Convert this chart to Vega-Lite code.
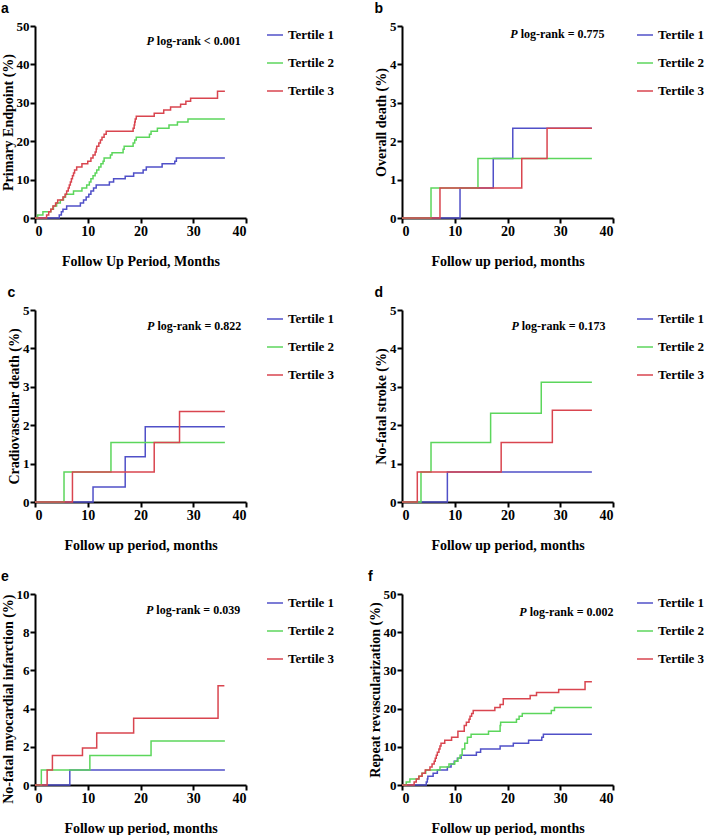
{
  "$schema": "https://vega.github.io/schema/vega-lite/v6.json",
  "background": "white",
  "padding": {"left": 0, "top": 2, "right": 0, "bottom": 0},
  "datasets": {
    "km": [
      {"p":"a","t":"Tertile 1","m":0,"v":0},{"p":"a","t":"Tertile 1","m":4.6,"v":0.8},{"p":"a","t":"Tertile 1","m":5.0,"v":1.6},{"p":"a","t":"Tertile 1","m":5.3,"v":2.3},{"p":"a","t":"Tertile 1","m":6.0,"v":3.1},{"p":"a","t":"Tertile 1","m":8.6,"v":3.9},{"p":"a","t":"Tertile 1","m":9.2,"v":4.7},{"p":"a","t":"Tertile 1","m":9.7,"v":5.5},{"p":"a","t":"Tertile 1","m":10.2,"v":6.2},{"p":"a","t":"Tertile 1","m":10.6,"v":7.0},{"p":"a","t":"Tertile 1","m":11.1,"v":7.8},{"p":"a","t":"Tertile 1","m":11.6,"v":8.6},{"p":"a","t":"Tertile 1","m":14.1,"v":9.4},{"p":"a","t":"Tertile 1","m":14.9,"v":10.2},{"p":"a","t":"Tertile 1","m":17.1,"v":10.9},{"p":"a","t":"Tertile 1","m":18.7,"v":11.7},{"p":"a","t":"Tertile 1","m":20.5,"v":12.5},{"p":"a","t":"Tertile 1","m":21.1,"v":13.3},{"p":"a","t":"Tertile 1","m":24.1,"v":14.1},{"p":"a","t":"Tertile 1","m":26.5,"v":14.8},{"p":"a","t":"Tertile 1","m":26.8,"v":15.6},{"p":"a","t":"Tertile 1","m":36,"v":15.6},
      {"p":"a","t":"Tertile 2","m":0,"v":0},{"p":"a","t":"Tertile 2","m":0.5,"v":0.8},{"p":"a","t":"Tertile 2","m":1.5,"v":1.6},{"p":"a","t":"Tertile 2","m":3.0,"v":2.3},{"p":"a","t":"Tertile 2","m":3.5,"v":3.1},{"p":"a","t":"Tertile 2","m":4.1,"v":3.9},{"p":"a","t":"Tertile 2","m":4.8,"v":4.7},{"p":"a","t":"Tertile 2","m":5.4,"v":5.5},{"p":"a","t":"Tertile 2","m":5.8,"v":6.2},{"p":"a","t":"Tertile 2","m":7.3,"v":7.0},{"p":"a","t":"Tertile 2","m":8.9,"v":7.8},{"p":"a","t":"Tertile 2","m":9.8,"v":8.6},{"p":"a","t":"Tertile 2","m":10.3,"v":9.4},{"p":"a","t":"Tertile 2","m":10.6,"v":10.2},{"p":"a","t":"Tertile 2","m":11.0,"v":11.0},{"p":"a","t":"Tertile 2","m":11.4,"v":11.7},{"p":"a","t":"Tertile 2","m":11.7,"v":12.5},{"p":"a","t":"Tertile 2","m":12.1,"v":13.3},{"p":"a","t":"Tertile 2","m":12.5,"v":14.1},{"p":"a","t":"Tertile 2","m":12.9,"v":14.8},{"p":"a","t":"Tertile 2","m":13.1,"v":15.6},{"p":"a","t":"Tertile 2","m":14.3,"v":16.4},{"p":"a","t":"Tertile 2","m":14.6,"v":17.0},{"p":"a","t":"Tertile 2","m":16.7,"v":17.9},{"p":"a","t":"Tertile 2","m":16.9,"v":18.7},{"p":"a","t":"Tertile 2","m":18.6,"v":19.5},{"p":"a","t":"Tertile 2","m":18.9,"v":20.3},{"p":"a","t":"Tertile 2","m":19.2,"v":21.0},{"p":"a","t":"Tertile 2","m":21.7,"v":21.8},{"p":"a","t":"Tertile 2","m":22.0,"v":22.6},{"p":"a","t":"Tertile 2","m":23.2,"v":23.4},{"p":"a","t":"Tertile 2","m":25.4,"v":24.2},{"p":"a","t":"Tertile 2","m":27.0,"v":25.0},{"p":"a","t":"Tertile 2","m":29.0,"v":25.8},{"p":"a","t":"Tertile 2","m":36,"v":25.8},
      {"p":"a","t":"Tertile 3","m":0,"v":0},{"p":"a","t":"Tertile 3","m":2.2,"v":0.8},{"p":"a","t":"Tertile 3","m":2.6,"v":1.6},{"p":"a","t":"Tertile 3","m":3.0,"v":2.3},{"p":"a","t":"Tertile 3","m":3.4,"v":3.1},{"p":"a","t":"Tertile 3","m":3.9,"v":3.9},{"p":"a","t":"Tertile 3","m":4.3,"v":4.7},{"p":"a","t":"Tertile 3","m":5.3,"v":5.5},{"p":"a","t":"Tertile 3","m":5.7,"v":6.2},{"p":"a","t":"Tertile 3","m":6.0,"v":7.0},{"p":"a","t":"Tertile 3","m":6.3,"v":7.8},{"p":"a","t":"Tertile 3","m":6.5,"v":8.6},{"p":"a","t":"Tertile 3","m":6.7,"v":9.4},{"p":"a","t":"Tertile 3","m":6.9,"v":10.2},{"p":"a","t":"Tertile 3","m":7.1,"v":11.0},{"p":"a","t":"Tertile 3","m":7.3,"v":11.7},{"p":"a","t":"Tertile 3","m":7.5,"v":12.5},{"p":"a","t":"Tertile 3","m":7.9,"v":13.3},{"p":"a","t":"Tertile 3","m":8.9,"v":14.1},{"p":"a","t":"Tertile 3","m":10.0,"v":14.8},{"p":"a","t":"Tertile 3","m":10.6,"v":15.6},{"p":"a","t":"Tertile 3","m":11.0,"v":16.4},{"p":"a","t":"Tertile 3","m":11.4,"v":17.2},{"p":"a","t":"Tertile 3","m":11.6,"v":18.0},{"p":"a","t":"Tertile 3","m":11.7,"v":18.7},{"p":"a","t":"Tertile 3","m":12.1,"v":19.5},{"p":"a","t":"Tertile 3","m":12.4,"v":20.3},{"p":"a","t":"Tertile 3","m":12.7,"v":21.0},{"p":"a","t":"Tertile 3","m":13.1,"v":21.8},{"p":"a","t":"Tertile 3","m":13.5,"v":22.6},{"p":"a","t":"Tertile 3","m":18.6,"v":23.4},{"p":"a","t":"Tertile 3","m":18.8,"v":24.2},{"p":"a","t":"Tertile 3","m":18.9,"v":25.0},{"p":"a","t":"Tertile 3","m":19.0,"v":25.8},{"p":"a","t":"Tertile 3","m":19.2,"v":26.5},{"p":"a","t":"Tertile 3","m":22.6,"v":27.3},{"p":"a","t":"Tertile 3","m":24.4,"v":28.1},{"p":"a","t":"Tertile 3","m":25.7,"v":28.9},{"p":"a","t":"Tertile 3","m":27.6,"v":29.6},{"p":"a","t":"Tertile 3","m":28.6,"v":30.4},{"p":"a","t":"Tertile 3","m":29.5,"v":31.2},{"p":"a","t":"Tertile 3","m":34.6,"v":33.0},{"p":"a","t":"Tertile 3","m":36,"v":33.0},
      {"p":"b","t":"Tertile 1","m":0,"v":0},{"p":"b","t":"Tertile 1","m":11.0,"v":0.78},{"p":"b","t":"Tertile 1","m":17.3,"v":1.55},{"p":"b","t":"Tertile 1","m":21.0,"v":2.34},{"p":"b","t":"Tertile 1","m":36,"v":2.34},
      {"p":"b","t":"Tertile 2","m":0,"v":0},{"p":"b","t":"Tertile 2","m":5.5,"v":0.78},{"p":"b","t":"Tertile 2","m":14.4,"v":1.55},{"p":"b","t":"Tertile 2","m":36,"v":1.55},
      {"p":"b","t":"Tertile 3","m":0,"v":0},{"p":"b","t":"Tertile 3","m":7.2,"v":0.78},{"p":"b","t":"Tertile 3","m":22.7,"v":1.55},{"p":"b","t":"Tertile 3","m":27.5,"v":2.34},{"p":"b","t":"Tertile 3","m":36,"v":2.34},
      {"p":"c","t":"Tertile 1","m":0,"v":0},{"p":"c","t":"Tertile 1","m":11.0,"v":0.39},{"p":"c","t":"Tertile 1","m":17.1,"v":1.18},{"p":"c","t":"Tertile 1","m":20.9,"v":1.96},{"p":"c","t":"Tertile 1","m":36,"v":1.96},
      {"p":"c","t":"Tertile 2","m":0,"v":0},{"p":"c","t":"Tertile 2","m":5.5,"v":0.78},{"p":"c","t":"Tertile 2","m":14.4,"v":1.55},{"p":"c","t":"Tertile 2","m":36,"v":1.55},
      {"p":"c","t":"Tertile 3","m":0,"v":0},{"p":"c","t":"Tertile 3","m":7.1,"v":0.78},{"p":"c","t":"Tertile 3","m":22.6,"v":1.55},{"p":"c","t":"Tertile 3","m":27.4,"v":2.36},{"p":"c","t":"Tertile 3","m":36,"v":2.36},
      {"p":"d","t":"Tertile 1","m":0,"v":0},{"p":"d","t":"Tertile 1","m":8.6,"v":0.78},{"p":"d","t":"Tertile 1","m":36,"v":0.78},
      {"p":"d","t":"Tertile 2","m":0,"v":0},{"p":"d","t":"Tertile 2","m":3.6,"v":0.78},{"p":"d","t":"Tertile 2","m":5.5,"v":1.55},{"p":"d","t":"Tertile 2","m":16.8,"v":2.31},{"p":"d","t":"Tertile 2","m":26.4,"v":3.12},{"p":"d","t":"Tertile 2","m":36,"v":3.12},
      {"p":"d","t":"Tertile 3","m":0,"v":0},{"p":"d","t":"Tertile 3","m":2.9,"v":0.78},{"p":"d","t":"Tertile 3","m":18.8,"v":1.55},{"p":"d","t":"Tertile 3","m":28.5,"v":2.39},{"p":"d","t":"Tertile 3","m":36,"v":2.39},
      {"p":"e","t":"Tertile 1","m":0,"v":0},{"p":"e","t":"Tertile 1","m":6.6,"v":0.78},{"p":"e","t":"Tertile 1","m":36,"v":0.78},
      {"p":"e","t":"Tertile 2","m":0,"v":0},{"p":"e","t":"Tertile 2","m":1.2,"v":0.78},{"p":"e","t":"Tertile 2","m":10.4,"v":1.55},{"p":"e","t":"Tertile 2","m":22.0,"v":2.31},{"p":"e","t":"Tertile 2","m":36,"v":2.31},
      {"p":"e","t":"Tertile 3","m":0,"v":0},{"p":"e","t":"Tertile 3","m":2.3,"v":0.78},{"p":"e","t":"Tertile 3","m":3.3,"v":1.55},{"p":"e","t":"Tertile 3","m":9.0,"v":1.94},{"p":"e","t":"Tertile 3","m":11.7,"v":2.72},{"p":"e","t":"Tertile 3","m":18.7,"v":3.5},{"p":"e","t":"Tertile 3","m":34.7,"v":5.2},{"p":"e","t":"Tertile 3","m":35.9,"v":5.2},
      {"p":"f","t":"Tertile 1","m":0,"v":0},{"p":"f","t":"Tertile 1","m":4.6,"v":0.8},{"p":"f","t":"Tertile 1","m":4.8,"v":1.6},{"p":"f","t":"Tertile 1","m":4.9,"v":2.3},{"p":"f","t":"Tertile 1","m":5.9,"v":3.1},{"p":"f","t":"Tertile 1","m":6.7,"v":3.9},{"p":"f","t":"Tertile 1","m":8.6,"v":4.7},{"p":"f","t":"Tertile 1","m":9.3,"v":5.5},{"p":"f","t":"Tertile 1","m":9.9,"v":6.2},{"p":"f","t":"Tertile 1","m":10.5,"v":7.0},{"p":"f","t":"Tertile 1","m":11.2,"v":7.8},{"p":"f","t":"Tertile 1","m":14.1,"v":8.6},{"p":"f","t":"Tertile 1","m":14.9,"v":9.4},{"p":"f","t":"Tertile 1","m":18.6,"v":10.2},{"p":"f","t":"Tertile 1","m":21.1,"v":10.9},{"p":"f","t":"Tertile 1","m":24.0,"v":11.7},{"p":"f","t":"Tertile 1","m":26.5,"v":12.5},{"p":"f","t":"Tertile 1","m":26.8,"v":13.3},{"p":"f","t":"Tertile 1","m":36,"v":13.3},
      {"p":"f","t":"Tertile 2","m":0,"v":0},{"p":"f","t":"Tertile 2","m":0.8,"v":0.8},{"p":"f","t":"Tertile 2","m":1.5,"v":1.6},{"p":"f","t":"Tertile 2","m":3.2,"v":2.3},{"p":"f","t":"Tertile 2","m":3.8,"v":3.1},{"p":"f","t":"Tertile 2","m":4.5,"v":3.9},{"p":"f","t":"Tertile 2","m":7.2,"v":4.7},{"p":"f","t":"Tertile 2","m":8.9,"v":5.5},{"p":"f","t":"Tertile 2","m":10.0,"v":6.2},{"p":"f","t":"Tertile 2","m":10.6,"v":7.0},{"p":"f","t":"Tertile 2","m":11.0,"v":7.8},{"p":"f","t":"Tertile 2","m":11.4,"v":9.4},{"p":"f","t":"Tertile 2","m":11.9,"v":10.9},{"p":"f","t":"Tertile 2","m":12.4,"v":12.5},{"p":"f","t":"Tertile 2","m":13.1,"v":13.3},{"p":"f","t":"Tertile 2","m":16.4,"v":14.1},{"p":"f","t":"Tertile 2","m":18.6,"v":15.6},{"p":"f","t":"Tertile 2","m":18.7,"v":16.4},{"p":"f","t":"Tertile 2","m":21.7,"v":17.2},{"p":"f","t":"Tertile 2","m":22.2,"v":18.0},{"p":"f","t":"Tertile 2","m":22.8,"v":18.7},{"p":"f","t":"Tertile 2","m":28.3,"v":19.5},{"p":"f","t":"Tertile 2","m":28.9,"v":20.3},{"p":"f","t":"Tertile 2","m":36,"v":20.3},
      {"p":"f","t":"Tertile 3","m":0,"v":0},{"p":"f","t":"Tertile 3","m":2.3,"v":0.8},{"p":"f","t":"Tertile 3","m":2.7,"v":1.6},{"p":"f","t":"Tertile 3","m":3.2,"v":2.3},{"p":"f","t":"Tertile 3","m":3.8,"v":3.1},{"p":"f","t":"Tertile 3","m":4.4,"v":3.9},{"p":"f","t":"Tertile 3","m":5.3,"v":4.7},{"p":"f","t":"Tertile 3","m":5.7,"v":5.5},{"p":"f","t":"Tertile 3","m":6.1,"v":6.2},{"p":"f","t":"Tertile 3","m":6.3,"v":7.0},{"p":"f","t":"Tertile 3","m":6.5,"v":7.8},{"p":"f","t":"Tertile 3","m":6.7,"v":8.6},{"p":"f","t":"Tertile 3","m":7.0,"v":9.4},{"p":"f","t":"Tertile 3","m":7.2,"v":10.2},{"p":"f","t":"Tertile 3","m":7.4,"v":10.9},{"p":"f","t":"Tertile 3","m":8.1,"v":11.7},{"p":"f","t":"Tertile 3","m":9.4,"v":12.5},{"p":"f","t":"Tertile 3","m":10.6,"v":14.1},{"p":"f","t":"Tertile 3","m":11.8,"v":15.6},{"p":"f","t":"Tertile 3","m":12.2,"v":16.4},{"p":"f","t":"Tertile 3","m":12.7,"v":17.2},{"p":"f","t":"Tertile 3","m":12.9,"v":18.0},{"p":"f","t":"Tertile 3","m":13.2,"v":18.7},{"p":"f","t":"Tertile 3","m":13.5,"v":19.5},{"p":"f","t":"Tertile 3","m":17.6,"v":20.3},{"p":"f","t":"Tertile 3","m":18.6,"v":21.1},{"p":"f","t":"Tertile 3","m":19.2,"v":22.6},{"p":"f","t":"Tertile 3","m":24.3,"v":23.4},{"p":"f","t":"Tertile 3","m":25.5,"v":24.2},{"p":"f","t":"Tertile 3","m":29.7,"v":25.0},{"p":"f","t":"Tertile 3","m":34.7,"v":27.0},{"p":"f","t":"Tertile 3","m":36,"v":27.0}
    ],
    "stats": [
      {"p":"a","s":"log-rank < 0.001"},
      {"p":"b","s":"log-rank = 0.775"},
      {"p":"c","s":"log-rank = 0.822"},
      {"p":"d","s":"log-rank = 0.173"},
      {"p":"e","s":"log-rank = 0.039"},
      {"p":"f","s":"log-rank = 0.002"}
    ]
  },
  "columns": 2,
  "spacing": {"column": 33, "row": 18},
  "resolve": {"scale": {"color": "independent", "x": "independent", "y": "independent"}, "legend": {"color": "independent"}},
  "concat": [
    {
      "width": 211, "height": 192, "title": {"text": "a"},
      "layer": [
        {"data": {"name": "km"}, "transform": [{"filter": "datum.p == 'a'"}],
         "mark": {"type": "line", "interpolate": "step-after", "strokeWidth": 1.5},
         "encoding": {
           "x": {"field": "m", "type": "quantitative", "scale": {"domain": [0, 40], "nice": false}, "axis": {"title": "Follow Up Period, Months", "values": [0, 10, 20, 30, 40], "labelOverlap": false}},
           "y": {"field": "v", "type": "quantitative", "scale": {"domain": [0, 50], "nice": false}, "axis": {"title": "Primary Endpoint (%)", "values": [0, 10, 20, 30, 40, 50], "labelOverlap": false}},
           "color": {"field": "t", "type": "nominal", "scale": {"domain": ["Tertile 1", "Tertile 2", "Tertile 3"], "range": ["#5050C8", "#5CD65C", "#D9454F"]}, "legend": {"title": null, "offset": 20}}
         }},
        {"data": {"name": "stats"}, "transform": [{"filter": "datum.p == 'a'"}],
         "mark": {"type": "text", "align": "right", "fontStyle": "italic", "dx": -3},
         "encoding": {"x": {"datum": 23.1, "type": "quantitative", "axis": {"title": "Follow Up Period, Months", "values": [0, 10, 20, 30, 40], "labelOverlap": false}}, "y": {"datum": 46.1, "type": "quantitative", "axis": {"title": "Primary Endpoint (%)", "values": [0, 10, 20, 30, 40, 50], "labelOverlap": false}}, "text": {"value": "P"}}},
        {"data": {"name": "stats"}, "transform": [{"filter": "datum.p == 'a'"}],
         "mark": {"type": "text", "align": "left"},
         "encoding": {"x": {"datum": 23.1, "type": "quantitative", "axis": {"title": "Follow Up Period, Months", "values": [0, 10, 20, 30, 40], "labelOverlap": false}}, "y": {"datum": 46.1, "type": "quantitative", "axis": {"title": "Primary Endpoint (%)", "values": [0, 10, 20, 30, 40, 50], "labelOverlap": false}}, "text": {"field": "s"}}}
      ]
    },
    {
      "width": 211, "height": 192, "title": {"text": "b"},
      "layer": [
        {"data": {"name": "km"}, "transform": [{"filter": "datum.p == 'b'"}],
         "mark": {"type": "line", "interpolate": "step-after", "strokeWidth": 1.5},
         "encoding": {
           "x": {"field": "m", "type": "quantitative", "scale": {"domain": [0, 40], "nice": false}, "axis": {"title": "Follow up period, months", "values": [0, 10, 20, 30, 40], "labelOverlap": false}},
           "y": {"field": "v", "type": "quantitative", "scale": {"domain": [0, 5], "nice": false}, "axis": {"title": "Overall death (%)", "values": [0, 1, 2, 3, 4, 5], "labelOverlap": false}},
           "color": {"field": "t", "type": "nominal", "scale": {"domain": ["Tertile 1", "Tertile 2", "Tertile 3"], "range": ["#5050C8", "#5CD65C", "#D9454F"]}, "legend": {"title": null, "offset": 23}}
         }},
        {"data": {"name": "stats"}, "transform": [{"filter": "datum.p == 'b'"}],
         "mark": {"type": "text", "align": "right", "fontStyle": "italic", "dx": -3},
         "encoding": {"x": {"datum": 22.5, "type": "quantitative", "axis": {"title": "Follow up period, months", "values": [0, 10, 20, 30, 40], "labelOverlap": false}}, "y": {"datum": 4.79, "type": "quantitative", "axis": {"title": "Overall death (%)", "values": [0, 1, 2, 3, 4, 5], "labelOverlap": false}}, "text": {"value": "P"}}},
        {"data": {"name": "stats"}, "transform": [{"filter": "datum.p == 'b'"}],
         "mark": {"type": "text", "align": "left"},
         "encoding": {"x": {"datum": 22.5, "type": "quantitative", "axis": {"title": "Follow up period, months", "values": [0, 10, 20, 30, 40], "labelOverlap": false}}, "y": {"datum": 4.79, "type": "quantitative", "axis": {"title": "Overall death (%)", "values": [0, 1, 2, 3, 4, 5], "labelOverlap": false}}, "text": {"field": "s"}}}
      ]
    },
    {
      "width": 211, "height": 192, "title": {"text": "c"},
      "layer": [
        {"data": {"name": "km"}, "transform": [{"filter": "datum.p == 'c'"}],
         "mark": {"type": "line", "interpolate": "step-after", "strokeWidth": 1.5},
         "encoding": {
           "x": {"field": "m", "type": "quantitative", "scale": {"domain": [0, 40], "nice": false}, "axis": {"title": "Follow up period, months", "values": [0, 10, 20, 30, 40], "labelOverlap": false}},
           "y": {"field": "v", "type": "quantitative", "scale": {"domain": [0, 5], "nice": false}, "axis": {"title": "Cradiovascular death (%)", "values": [0, 1, 2, 3, 4, 5], "labelOverlap": false}},
           "color": {"field": "t", "type": "nominal", "scale": {"domain": ["Tertile 1", "Tertile 2", "Tertile 3"], "range": ["#5050C8", "#5CD65C", "#D9454F"]}, "legend": {"title": null, "offset": 20}}
         }},
        {"data": {"name": "stats"}, "transform": [{"filter": "datum.p == 'c'"}],
         "mark": {"type": "text", "align": "right", "fontStyle": "italic", "dx": -3},
         "encoding": {"x": {"datum": 23.2, "type": "quantitative", "axis": {"title": "Follow up period, months", "values": [0, 10, 20, 30, 40], "labelOverlap": false}}, "y": {"datum": 4.58, "type": "quantitative", "axis": {"title": "Cradiovascular death (%)", "values": [0, 1, 2, 3, 4, 5], "labelOverlap": false}}, "text": {"value": "P"}}},
        {"data": {"name": "stats"}, "transform": [{"filter": "datum.p == 'c'"}],
         "mark": {"type": "text", "align": "left"},
         "encoding": {"x": {"datum": 23.2, "type": "quantitative", "axis": {"title": "Follow up period, months", "values": [0, 10, 20, 30, 40], "labelOverlap": false}}, "y": {"datum": 4.58, "type": "quantitative", "axis": {"title": "Cradiovascular death (%)", "values": [0, 1, 2, 3, 4, 5], "labelOverlap": false}}, "text": {"field": "s"}}}
      ]
    },
    {
      "width": 211, "height": 192, "title": {"text": "d"},
      "layer": [
        {"data": {"name": "km"}, "transform": [{"filter": "datum.p == 'd'"}],
         "mark": {"type": "line", "interpolate": "step-after", "strokeWidth": 1.5},
         "encoding": {
           "x": {"field": "m", "type": "quantitative", "scale": {"domain": [0, 40], "nice": false}, "axis": {"title": "Follow up period, months", "values": [0, 10, 20, 30, 40], "labelOverlap": false}},
           "y": {"field": "v", "type": "quantitative", "scale": {"domain": [0, 5], "nice": false}, "axis": {"title": "No-fatal stroke (%)", "values": [0, 1, 2, 3, 4, 5], "labelOverlap": false}},
           "color": {"field": "t", "type": "nominal", "scale": {"domain": ["Tertile 1", "Tertile 2", "Tertile 3"], "range": ["#5050C8", "#5CD65C", "#D9454F"]}, "legend": {"title": null, "offset": 23}}
         }},
        {"data": {"name": "stats"}, "transform": [{"filter": "datum.p == 'd'"}],
         "mark": {"type": "text", "align": "right", "fontStyle": "italic", "dx": -3},
         "encoding": {"x": {"datum": 22.7, "type": "quantitative", "axis": {"title": "Follow up period, months", "values": [0, 10, 20, 30, 40], "labelOverlap": false}}, "y": {"datum": 4.58, "type": "quantitative", "axis": {"title": "No-fatal stroke (%)", "values": [0, 1, 2, 3, 4, 5], "labelOverlap": false}}, "text": {"value": "P"}}},
        {"data": {"name": "stats"}, "transform": [{"filter": "datum.p == 'd'"}],
         "mark": {"type": "text", "align": "left"},
         "encoding": {"x": {"datum": 22.7, "type": "quantitative", "axis": {"title": "Follow up period, months", "values": [0, 10, 20, 30, 40], "labelOverlap": false}}, "y": {"datum": 4.58, "type": "quantitative", "axis": {"title": "No-fatal stroke (%)", "values": [0, 1, 2, 3, 4, 5], "labelOverlap": false}}, "text": {"field": "s"}}}
      ]
    },
    {
      "width": 211, "height": 191, "title": {"text": "e"},
      "layer": [
        {"data": {"name": "km"}, "transform": [{"filter": "datum.p == 'e'"}],
         "mark": {"type": "line", "interpolate": "step-after", "strokeWidth": 1.5},
         "encoding": {
           "x": {"field": "m", "type": "quantitative", "scale": {"domain": [0, 40], "nice": false}, "axis": {"title": "Follow up period, months", "values": [0, 10, 20, 30, 40], "labelOverlap": false}},
           "y": {"field": "v", "type": "quantitative", "scale": {"domain": [0, 10], "nice": false}, "axis": {"title": "No-fatal myocardial infarction (%)", "values": [0, 2, 4, 6, 8, 10], "titleAnchor": "end", "labelOverlap": false}},
           "color": {"field": "t", "type": "nominal", "scale": {"domain": ["Tertile 1", "Tertile 2", "Tertile 3"], "range": ["#5050C8", "#5CD65C", "#D9454F"]}, "legend": {"title": null, "offset": 20}}
         }},
        {"data": {"name": "stats"}, "transform": [{"filter": "datum.p == 'e'"}],
         "mark": {"type": "text", "align": "right", "fontStyle": "italic", "dx": -3},
         "encoding": {"x": {"datum": 23.0, "type": "quantitative", "axis": {"title": "Follow up period, months", "values": [0, 10, 20, 30, 40], "labelOverlap": false}}, "y": {"datum": 9.16, "type": "quantitative", "axis": {"title": "No-fatal myocardial infarction (%)", "values": [0, 2, 4, 6, 8, 10], "titleAnchor": "end", "labelOverlap": false}}, "text": {"value": "P"}}},
        {"data": {"name": "stats"}, "transform": [{"filter": "datum.p == 'e'"}],
         "mark": {"type": "text", "align": "left"},
         "encoding": {"x": {"datum": 23.0, "type": "quantitative", "axis": {"title": "Follow up period, months", "values": [0, 10, 20, 30, 40], "labelOverlap": false}}, "y": {"datum": 9.16, "type": "quantitative", "axis": {"title": "No-fatal myocardial infarction (%)", "values": [0, 2, 4, 6, 8, 10], "titleAnchor": "end", "labelOverlap": false}}, "text": {"field": "s"}}}
      ]
    },
    {
      "width": 211, "height": 191, "title": {"text": "f"},
      "layer": [
        {"data": {"name": "km"}, "transform": [{"filter": "datum.p == 'f'"}],
         "mark": {"type": "line", "interpolate": "step-after", "strokeWidth": 1.5},
         "encoding": {
           "x": {"field": "m", "type": "quantitative", "scale": {"domain": [0, 40], "nice": false}, "axis": {"title": "Follow up period, months", "values": [0, 10, 20, 30, 40], "labelOverlap": false}},
           "y": {"field": "v", "type": "quantitative", "scale": {"domain": [0, 50], "nice": false}, "axis": {"title": "Repeat revascularization (%)", "values": [0, 10, 20, 30, 40, 50], "labelOverlap": false}},
           "color": {"field": "t", "type": "nominal", "scale": {"domain": ["Tertile 1", "Tertile 2", "Tertile 3"], "range": ["#5050C8", "#5CD65C", "#D9454F"]}, "legend": {"title": null, "offset": 23}}
         }},
        {"data": {"name": "stats"}, "transform": [{"filter": "datum.p == 'f'"}],
         "mark": {"type": "text", "align": "right", "fontStyle": "italic", "dx": -3},
         "encoding": {"x": {"datum": 24.2, "type": "quantitative", "axis": {"title": "Follow up period, months", "values": [0, 10, 20, 30, 40], "labelOverlap": false}}, "y": {"datum": 45.3, "type": "quantitative", "axis": {"title": "Repeat revascularization (%)", "values": [0, 10, 20, 30, 40, 50], "labelOverlap": false}}, "text": {"value": "P"}}},
        {"data": {"name": "stats"}, "transform": [{"filter": "datum.p == 'f'"}],
         "mark": {"type": "text", "align": "left"},
         "encoding": {"x": {"datum": 24.2, "type": "quantitative", "axis": {"title": "Follow up period, months", "values": [0, 10, 20, 30, 40], "labelOverlap": false}}, "y": {"datum": 45.3, "type": "quantitative", "axis": {"title": "Repeat revascularization (%)", "values": [0, 10, 20, 30, 40, 50], "labelOverlap": false}}, "text": {"field": "s"}}}
      ]
    }
  ],
  "config": {
    "font": "Liberation Serif",
    "view": {"stroke": null},
    "axis": {"domainColor": "black", "domainWidth": 2, "tickColor": "black", "tickWidth": 2, "tickSize": 5, "grid": false, "labelOverlap": false,
             "labelFont": "Liberation Serif", "labelFontWeight": "bold", "labelFontSize": 14, "labelColor": "black", "labelPadding": 1,
             "titleFont": "Liberation Serif", "titleFontWeight": "bold", "titleFontSize": 14, "titleColor": "black"},
    "axisY": {"titleFontSize": 14, "titlePadding": 1, "labelFontSize": 13},
    "axisX": {"titlePadding": 16},
    "legend": {"orient": "right", "symbolType": "stroke", "symbolSize": 256, "symbolStrokeWidth": 1.5,
               "labelFont": "Liberation Serif", "labelFontWeight": "bold", "labelFontSize": 13, "labelColor": "black", "rowPadding": 12, "labelOffset": 4},
    "title": {"font": "Liberation Sans", "fontSize": 14, "fontWeight": "bold", "anchor": "start", "frame": "bounds", "offset": 0, "color": "black"},
    "text": {"font": "Liberation Serif", "fontWeight": "bold", "fontSize": 12, "baseline": "middle", "color": "black"}
  }
}
